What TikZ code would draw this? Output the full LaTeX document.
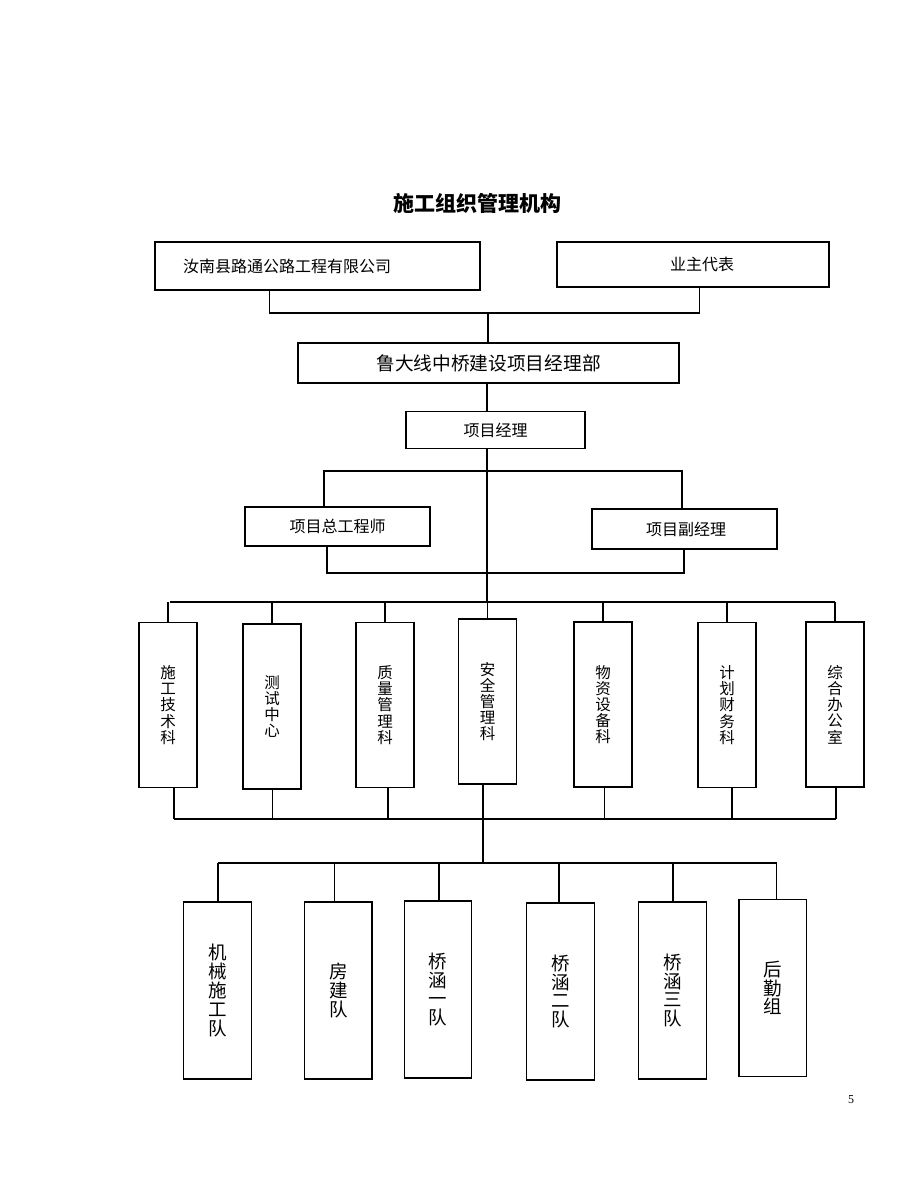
\documentclass[tikz,border=0pt]{standalone}
\usepackage{fontspec}
\setmainfont{Liberation Serif}
\newfontfamily\cjk{Noto Sans CJK SC}
\begin{document}
\begin{tikzpicture}[x=1pt,y=-1pt]
\tikzset{
 box/.style={draw, line width=1.4pt, inner sep=0pt, font=\cjk\fontsize{16}{19}\selectfont},
 col/.style={box, minimum width=58pt, minimum height=165pt, align=center, font=\cjk\fontsize{15.5}{16.2}\selectfont},
 team/.style={box, minimum width=67.5pt, minimum height=177pt, align=center, font=\cjk\fontsize{18.5}{18.8}\selectfont},
 conn/.style={line width=1.4pt}
}
\fill[white] (0,0) rectangle (920,1183);
\useasboundingbox (0,0) rectangle (920,1183);

\node[font=\cjk\bfseries\fontsize{21}{24}\selectfont] (title) at (477,203) {施工组织管理机构};

\node[box, minimum width=325pt, minimum height=48pt, text width=269pt, inner xsep=28pt, align=left] (co) at (317.5,266) {汝南县路通公路工程有限公司};
\node[box, minimum width=272pt, minimum height=45pt] (owner) at (693,264.5) {\hspace*{18pt}业主代表};
\node[box, minimum width=381pt, minimum height=40pt, font=\cjk\fontsize{18.7}{22}\selectfont] (dept) at (488.5,363) {鲁大线中桥建设项目经理部};
\node[box, minimum width=179pt, minimum height=37pt] (pm) at (495.5,430) {项目经理};
\node[box, minimum width=185pt, minimum height=39pt] (ce) at (337.5,526.5) {项目总工程师};
\node[box, minimum width=185pt, minimum height=40pt] (dpm) at (684.5,529) {\hspace*{3pt}项目副经理};

% top connectors
\coordinate (j1) at (488,313);
\draw[conn] ([xshift=115pt]co.south west) |- (j1) -| ([xshift=143pt]owner.south west);
\draw[conn] (j1) -- (j1 |- dept.north);
\coordinate (tr) at ([xshift=-1.5pt]dept.south);
\draw[conn] (tr) -- (tr |- pm.north);
\coordinate (bus2) at (487,602);
\draw[conn] (tr |- pm.south) -- (tr |- bus2);

\coordinate (b1) at (324,471);
\coordinate (b2) at (682,471);
\draw[conn] (b1 |- ce.north) -- (b1) -- (b2) -- (b2 |- dpm.north);
\coordinate (b3) at (327,573);
\coordinate (b4) at (684,573);
\draw[conn] (b3 |- ce.south) -- (b3) -- (b4) -- (b4 |- dpm.south);

% departments
\node[col] (r1) at (168,705) {施\\工\\技\\术\\科};
\node[col] (r2) at (272,706.5) {测\\试\\中\\心};
\node[col] (r3) at (385,705) {质\\量\\管\\理\\科};
\node[col] (r4) at (487.5,701.5) {安\\全\\管\\理\\科};
\node[col] (r5) at (603,704.5) {物\\资\\设\\备\\科};
\node[col] (r6) at (727,705) {计\\划\\财\\务\\科};
\node[col] (r7) at (835,704.5) {综\\合\\办\\公\\室};

\draw[conn] ([xshift=2pt]r1.north |- bus2) -- (r7.north |- bus2);
\foreach \i in {1,...,7} {\draw[conn] (r\i.north) -- (r\i.north |- bus2);}

\coordinate (bus3) at (483,819);
\foreach \i/\s in {1/6,2/0.5,3/3,4/-4.5,5/1.5,6/5,7/1} {
  \coordinate (s\i) at ([xshift=\s pt]r\i.south);
  \draw[conn] (s\i) -- (s\i |- bus3);
}
\draw[conn] (s1 |- bus3) -- (s7 |- bus3);

% teams
\node[team] (t1) at (217.5,990.5) {机\\械\\施\\工\\队};
\node[team] (t2) at (338.25,990.5) {房\\建\\队};
\node[team] (t3) at (438,989.5) {桥\\涵\\一\\队};
\node[team] (t4) at (560.5,991.5) {桥\\涵\\二\\队};
\node[team] (t5) at (672.5,990.5) {桥\\涵\\三\\队};
\node[team] (t6) at (772.75,988) {后\\勤\\组};

\coordinate (bus4) at (483,863);
\draw[conn] (bus3) -- (bus4);
\foreach \i/\s in {1/0.5,2/-3.5,3/1,4/-1.5,5/0.5,6/4} {
  \coordinate (u\i) at ([xshift=\s pt]t\i.north);
  \draw[conn] (u\i) -- (u\i |- bus4);
}
\draw[conn] (u1 |- bus4) -- (u6 |- bus4);

\node[font=\fontsize{12}{14}\selectfont] (pg) at (851,1100) {5};
\end{tikzpicture}
\end{document}
